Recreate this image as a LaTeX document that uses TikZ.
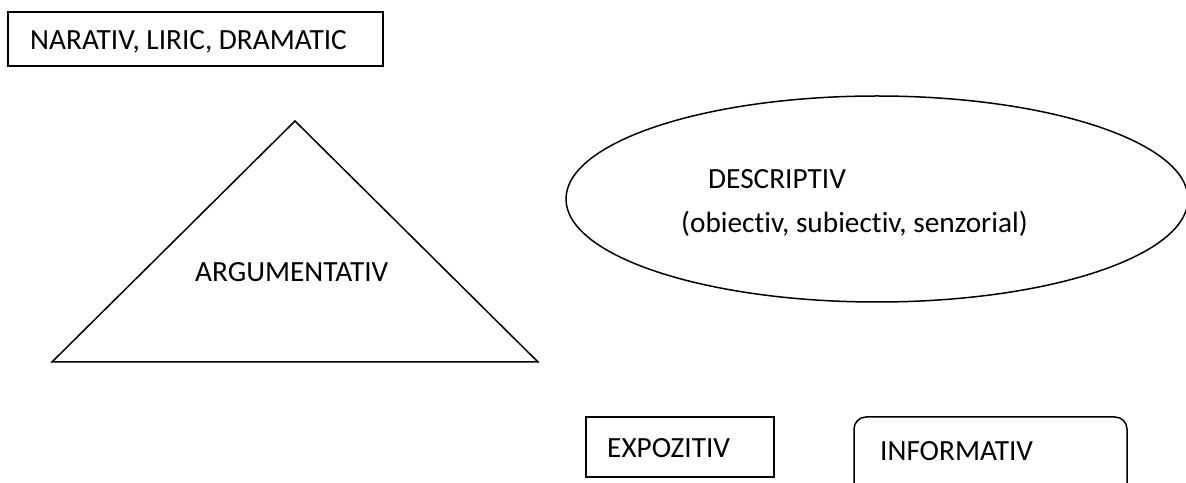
\documentclass[tikz,border=0pt]{standalone}
\usepackage{fontspec}
\setmainfont[Ligatures=NoCommon]{Carlito}
\begin{document}
\begin{tikzpicture}[x=1pt,y=1pt,
  shape line/.style={draw=black,line width=1.5pt},
  label text/.style={inner sep=0pt,anchor=base west,font=\fontsize{29.3}{35}\selectfont}]
\useasboundingbox (0,0) rectangle (1186,482);
\clip (0,0) rectangle (1186,482);
% shapes
\draw[shape line] (8,470) rectangle (383,416);
\draw[shape line,line join=miter] (295,361) -- (52,120) -- (538,120) -- cycle;
\draw[shape line] (877,283) ellipse [x radius=311, y radius=103];
\draw[shape line] (586,65) rectangle (774,5);
\draw[shape line,rounded corners=12pt] (854,-20) -- (854,65) -- (1127,65) -- (1127,-20);
% texts
\node[label text] (nar) at (30,432) {NARATIV, LIRIC, DRAMATIC};
\node[label text] (arg) at (195,200) {ARGUMENTATIV};
\node[label text] (desc) at (708,293) {DESCRIPTIV};
\node[label text] (desc2) at (681,249) {(obiectiv, subiectiv, senzorial)};
\node[label text] (expo) at (607,25) {EXPOZITIV};
\node[label text] (info) at (880,21) {INFORMATIV};
\end{tikzpicture}
\end{document}
